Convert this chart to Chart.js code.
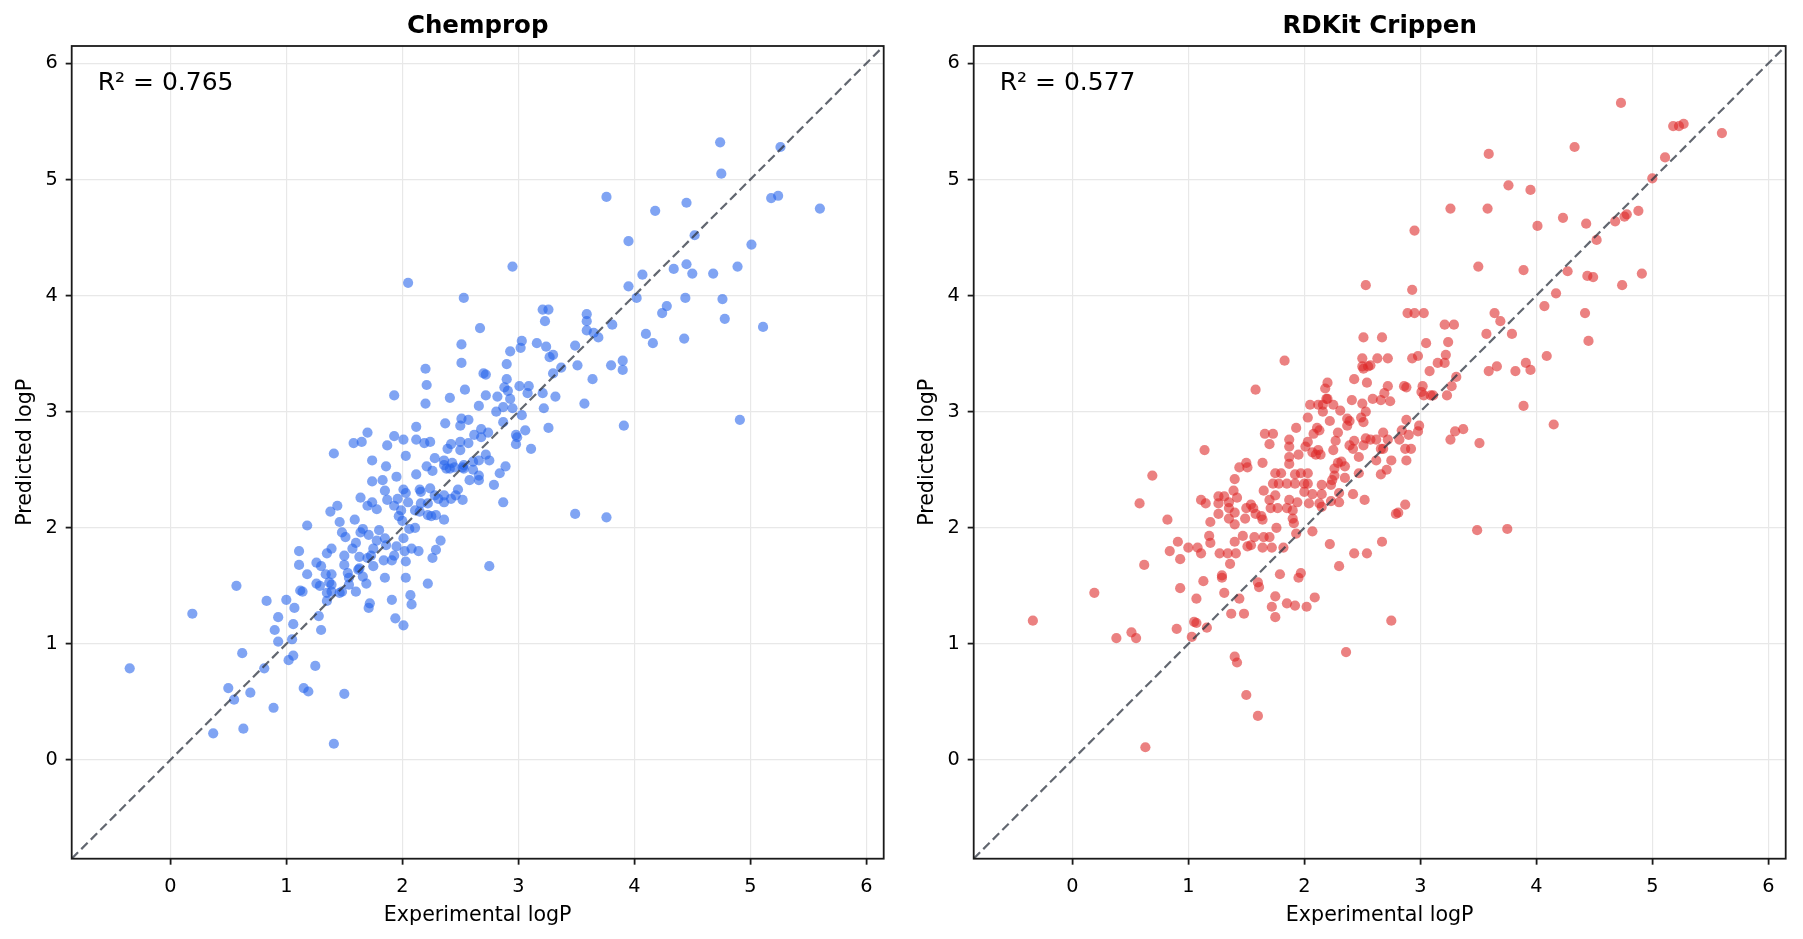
<!DOCTYPE html>
<html>
<head>
<meta charset="utf-8">
<script src="https://cdn.jsdelivr.net/npm/chart.js@4.4.1/dist/chart.umd.min.js"></script>
<style>
  html, body { margin: 0; padding: 0; background: #fff; }
  body { width: 1803px; height: 939px; position: relative; overflow: hidden; }
  canvas { position: absolute; top: 0; }
  #chemChart { left: 0; }
  #cripChart { left: 902px; }
</style>
</head>
<body>
<canvas id="chemChart" width="901" height="939"></canvas>
<canvas id="cripChart" width="901" height="939"></canvas>
<script>
// axis limits and ticks shared by both panels
const axisLims = [-0.85, 6.15];
const tickValues = [0, 1, 2, 3, 4, 5, 6];

// Chemprop panel (experimental vs predicted)
const chempropExp = [
  -0.35, 0.19, 0.57, 0.62, 0.50, 0.55, 0.69, 0.37, 0.63, 0.89, 0.81, 0.83, 1.00, 0.93, 1.07, 0.90, 0.93, 1.06, 1.05, 1.06,
  1.02, 1.25, 1.15, 1.19, 1.50, 1.41, 1.18, 1.11, 1.11, 1.18, 1.26, 1.30, 1.26, 1.12, 1.14, 1.28, 1.30, 1.34, 1.39, 1.37,
  1.39, 1.29, 1.35, 1.35, 1.39, 1.46, 1.48, 1.53, 1.54, 1.60, 1.54, 1.62, 1.69, 1.66, 1.50, 1.50, 1.35, 1.39, 1.57, 1.60,
  1.63, 1.63, 1.70, 1.75, 1.73, 1.75, 1.78, 1.71, 1.66, 1.64, 1.48, 1.51, 1.46, 1.38, 1.44, 1.59, 1.64, 1.70, 1.78, 1.74,
  1.74, 1.83, 1.85, 1.87, 1.95, 1.86, 1.74, 1.87, 1.41, 1.58, 1.65, 1.80, 1.85, 1.86, 1.84, 1.91, 1.93, 1.95, 1.85, 1.91,
  1.94, 2.01, 1.72, 1.71, 2.07, 2.08, 2.03, 2.03, 2.02, 2.08, 2.14, 2.22, 2.26, 2.01, 2.06, 2.11, 2.00, 1.97, 1.93, 1.99,
  1.96, 2.05, 2.11, 2.15, 2.22, 2.25, 2.29, 2.31, 2.28, 2.24, 2.15, 2.01, 2.03, 2.16, 2.16, 2.22, 2.12, 2.26, 2.21, 2.03,
  2.19, 2.24, 2.12, 2.01, 2.28, 2.29,
  2.53, 2.67, 2.51, 2.51, 2.20, 2.21, 2.20, 2.41, 2.54, 2.70, 2.72, 2.90, 2.90, 2.93, 3.02, 3.03, 3.16, 3.21, 3.26, 3.23,
  3.24, 3.27, 3.30, 3.30, 3.37, 3.49, 3.51, 3.59, 3.59, 3.59, 3.65, 3.69, 3.81, 3.64, 3.80, 3.90, 3.90, 3.57, 3.91, 4.02,
  4.10, 4.16, 4.24, 4.28, 4.43, 4.44, 3.49, 3.76, 3.32, 3.21, 3.22, 3.26, 3.09, 3.08, 3.01, 3.03, 3.06, 2.98, 2.98, 2.99,
  3.11, 2.95, 2.93, 2.91, 2.88, 2.82, 2.87, 2.81, 2.87, 2.72, 2.66, 2.51, 2.50, 2.57, 2.37, 2.62, 2.68, 2.68, 2.74, 2.57,
  2.50, 2.50, 2.42, 2.39, 2.72, 2.75, 2.66, 2.61, 2.53, 2.52, 2.53, 2.43, 2.41, 2.36, 2.36, 2.38, 2.45, 2.61, 2.66, 2.66,
  2.58, 2.89, 2.84, 2.79, 2.87, 2.48, 2.52, 2.46, 2.42, 2.36, 2.36, 2.36, 2.33, 2.75,
  4.74, 5.26, 4.75, 3.76, 5.18, 5.24, 5.60, 4.18, 4.45, 3.95, 4.52, 5.01, 4.07, 4.34, 4.45, 4.50, 4.68, 4.89, 3.95, 4.76,
  4.78, 5.11, 4.91, 2.05, 2.95, 1.93, 2.12, 1.93, 1.70
];
const chempropPred = [
  0.79, 1.26, 1.50, 0.92, 0.62, 0.52, 0.58, 0.23, 0.27, 0.45, 0.79, 1.37, 1.38, 1.23, 1.31, 1.12, 1.02, 1.17, 1.04, 0.90,
  0.86, 0.81, 0.62, 0.59, 0.57, 0.14, 2.02, 1.80, 1.68, 1.60, 1.70, 1.67, 1.52, 1.46, 1.45, 1.24, 1.12, 1.60, 1.60, 1.53,
  1.51, 1.50, 1.44, 1.37, 1.45, 1.44, 1.45, 1.61, 1.51, 1.45, 1.57, 1.64, 1.52, 1.58, 1.68, 1.76, 1.78, 1.82, 1.82, 1.87,
  1.75, 1.65, 1.74, 1.67, 1.76, 1.82, 1.89, 1.94, 1.99, 1.96, 1.96, 1.92, 2.05, 2.14, 2.19, 2.07, 2.26, 2.19, 2.16, 2.22,
  2.40, 2.41, 2.32, 2.24, 2.44, 2.53, 2.58, 2.71, 2.64, 2.73, 2.74, 1.98, 1.91, 1.85, 1.72, 1.72, 1.76, 1.84, 1.57, 1.38,
  1.22, 1.16, 1.35, 1.31, 1.42, 1.34, 1.57, 1.71, 1.80, 1.82, 1.80, 1.52, 1.74, 1.91, 1.99, 2.00, 2.06, 2.10, 2.19, 2.15,
  2.25, 2.22, 2.15, 2.14, 2.11, 2.10, 2.11, 2.25, 2.28, 2.34, 2.33, 2.33, 2.30, 2.31, 2.21, 2.21, 2.46, 2.49, 2.53, 2.62,
  2.73, 2.74, 2.76, 2.76, 2.60, 1.81,
  3.98, 3.72, 3.58, 3.42, 3.37, 3.23, 3.07, 3.12, 3.19, 3.33, 3.32, 3.41, 3.28, 3.52, 3.55, 3.61, 3.59, 3.88, 3.88, 3.78,
  3.56, 3.47, 3.49, 3.33, 3.38, 3.57, 3.40, 3.84, 3.78, 3.70, 3.68, 3.64, 3.75, 3.28, 3.40, 3.44, 3.36, 3.07, 2.88, 3.98,
  3.67, 3.59, 3.85, 3.91, 3.63, 3.98, 2.12, 2.09, 3.13, 3.16, 3.03, 2.86, 3.22, 3.16, 3.22, 2.97, 2.84, 2.80, 2.72, 2.78,
  2.68, 3.03, 3.11, 3.18, 3.21, 3.13, 3.04, 3.00, 2.91, 3.14, 3.05, 2.94, 2.88, 2.93, 2.90, 2.80, 2.85, 2.78, 2.82, 2.73,
  2.74, 2.67, 2.72, 2.68, 2.63, 2.58, 2.58, 2.57, 2.54, 2.52, 2.51, 2.56, 2.51, 2.58, 2.54, 2.51, 2.52, 2.50, 2.45, 2.41,
  2.41, 2.53, 2.47, 2.37, 2.22, 2.33, 2.24, 2.28, 2.25, 2.28, 2.22, 2.07, 1.89, 1.67,
  5.32, 5.28, 5.05, 4.85, 4.84, 4.86, 4.75, 4.73, 4.80, 4.47, 4.52, 4.44, 4.18, 4.23, 4.27, 4.19, 4.19, 4.25, 4.08, 3.97,
  3.80, 3.73, 2.93, 4.11, 4.25, 3.14, 2.87, 2.79, 2.82
];

// RDKit Crippen panel (experimental vs predicted)
const crippenExp = [
  -0.34, 0.19, 0.38, 0.51, 0.55, 0.62, 0.58, 0.69, 0.82, 0.63, 0.84, 0.91, 0.93, 0.93, 0.90, 1.00, 1.03, 1.05, 1.07, 1.16,
  1.07, 1.13, 1.08, 1.11, 1.18, 1.19, 1.19, 1.11, 1.15, 1.14, 1.26, 1.26, 1.26, 1.31, 1.35, 1.35, 1.35, 1.40, 1.40, 1.42,
  1.39, 1.40, 1.44, 1.50, 1.51, 1.64, 1.70, 1.27, 1.34, 1.41, 1.40, 1.36, 1.29, 1.29, 1.31, 1.37, 1.48, 1.44, 1.40, 1.42,
  1.50, 1.60, 1.47, 1.49, 1.50, 1.54, 1.56, 1.58, 1.63, 1.64, 1.51, 1.54, 1.57, 1.65, 1.64, 1.70, 1.72, 1.76, 1.82, 1.93,
  1.60, 1.61, 1.79, 1.75, 1.72, 1.75, 1.85, 1.92, 1.95, 1.97, 2.02, 2.09, 2.07, 2.22, 2.30, 1.65, 1.70, 1.71, 1.75, 1.75,
  1.80, 1.73, 1.78, 1.77, 1.85, 1.90, 1.87, 1.94, 1.85, 1.92, 1.92, 1.97, 2.03, 2.00, 2.03, 2.00, 2.07, 2.04, 2.15, 2.15,
  2.13, 2.15, 2.23, 2.26, 2.24, 2.23, 2.26, 2.29, 1.87, 1.87, 1.87, 1.87, 1.95, 2.01, 2.03, 2.07, 2.10, 2.12, 2.14, 2.25,
  2.27, 1.91, 1.90,
  2.89, 2.95, 3.03, 3.21, 3.29, 3.05, 3.24, 2.51, 2.67, 2.50, 2.63, 2.72, 2.50, 2.55, 2.57, 2.51, 2.93, 2.98, 3.22, 3.15,
  3.21, 3.08, 3.31, 3.27, 3.23, 3.02, 3.01, 3.03, 3.09, 3.11, 2.86, 2.88, 2.43, 2.54, 2.72, 2.69, 2.66, 2.74, 2.59, 2.41,
  2.50, 2.53, 2.49, 2.51, 2.37, 2.39, 2.37, 2.31, 2.25, 2.20, 2.19, 2.20, 2.18, 2.16, 2.16, 2.22, 2.29, 2.13, 2.88, 2.99,
  2.98, 2.90, 2.84, 2.82, 2.68, 2.72, 2.57, 2.62, 2.53, 2.43, 3.30, 3.37, 3.26, 3.51, 3.89, 4.15, 3.57, 3.64, 3.69, 3.79,
  3.59, 3.66, 3.82, 3.91, 3.95, 4.09, 4.07, 4.42, 4.45,
  2.39, 2.42, 2.47, 2.51, 2.66, 2.68, 2.62, 2.75, 2.66, 2.71, 2.47, 2.35, 2.35, 2.32, 2.42, 2.52, 2.30, 2.30, 2.87, 2.92,
  2.88, 2.87, 2.79, 2.81, 2.67, 2.54, 2.43, 3.49, 3.75, 2.36, 2.75,
  4.73, 5.18, 5.23, 5.27, 5.60, 5.11, 5.00, 4.33, 3.59, 3.76, 3.95, 3.58, 4.01, 4.23, 4.43, 4.52, 4.68, 4.76, 4.78, 4.88,
  3.50, 3.89, 4.27, 4.44, 4.49, 4.74, 4.91, 4.17,
  3.26, 2.95, 2.53, 2.93, 1.83, 1.58, 1.66, 1.73, 1.93, 2.03, 2.05, 2.12, 2.08, 2.11
];
const crippenPred = [
  1.20, 1.44, 1.05, 1.10, 1.05, 1.68, 2.21, 2.45, 2.07, 0.11, 1.80, 1.88, 1.73, 1.48, 1.13, 1.83, 1.06, 1.19, 1.18, 1.14,
  1.39, 1.54, 1.83, 1.78, 1.93, 1.87, 2.05, 2.24, 2.21, 2.67, 2.27, 2.21, 2.12, 2.27, 2.22, 2.17, 2.08, 2.03, 2.13, 2.26,
  2.32, 2.42, 2.52, 2.56, 2.52, 2.56, 2.72, 1.78, 1.78, 1.78, 1.88, 1.69, 1.59, 1.57, 1.44, 1.26, 1.26, 1.39, 0.89, 0.84,
  0.56, 0.38, 1.93, 2.08, 2.17, 2.20, 2.17, 2.12, 2.10, 2.07, 1.84, 1.85, 1.92, 1.92, 1.83, 1.92, 1.83, 2.00, 1.83, 1.95,
  1.53, 1.49, 1.60, 1.41, 1.32, 1.23, 1.35, 1.33, 1.57, 1.61, 1.32, 1.40, 1.97, 1.86, 1.67, 2.32, 2.24, 2.17, 2.28, 2.47,
  2.47, 2.38, 2.38, 2.17, 2.17, 2.15, 2.24, 2.22, 2.38, 2.38, 2.46, 2.47, 2.47, 2.38, 2.38, 2.31, 2.29, 2.21, 2.29, 2.37,
  2.21, 2.18, 2.23, 2.45, 2.41, 2.37, 2.51, 2.56, 2.61, 2.55, 2.70, 2.76, 2.63, 2.70, 2.74, 2.65, 2.63, 2.67, 2.63, 2.67,
  2.75, 2.04, 2.08,
  3.85, 3.85, 3.85, 3.75, 3.75, 3.59, 3.60, 3.64, 3.64, 3.46, 3.46, 3.46, 3.39, 3.39, 3.40, 3.37, 3.46, 3.48, 3.49, 3.42,
  3.42, 3.35, 3.30, 3.22, 3.14, 3.22, 3.17, 3.14, 3.14, 3.14, 3.22, 3.21, 3.28, 3.25, 3.22, 3.16, 3.10, 3.09, 3.11, 3.10,
  3.07, 3.00, 2.95, 2.91, 2.94, 2.92, 2.88, 3.01, 3.06, 3.11, 3.11, 3.25, 3.20, 3.00, 3.06, 2.92, 2.82, 2.84, 2.93, 2.88,
  2.83, 2.80, 2.84, 2.76, 2.82, 2.76, 2.76, 2.76, 2.77, 2.75, 2.83, 2.85, 2.76, 2.73, 3.05, 2.89, 3.67, 3.85, 3.78, 3.67,
  3.35, 3.39, 3.35, 3.42, 3.36, 3.48, 3.91, 3.85, 3.61,
  2.71, 2.68, 2.61, 2.71, 2.68, 2.68, 2.58, 2.58, 2.46, 2.50, 2.47, 2.43, 2.53, 2.57, 2.29, 2.24, 2.30, 2.22, 2.68, 2.68,
  2.58, 2.20, 2.12, 2.13, 1.88, 1.78, 1.78, 1.98, 1.99, 0.93, 1.20,
  5.66, 5.46, 5.46, 5.48, 5.40, 5.19, 5.01, 5.28, 5.22, 4.95, 4.91, 4.75, 4.60, 4.67, 4.62, 4.48, 4.64, 4.68, 4.70, 4.73,
  4.25, 4.22, 4.21, 4.17, 4.16, 4.09, 4.19, 4.02,
  4.75, 4.56, 4.09, 4.05, 3.44, 3.19, 2.81, 2.81, 2.86, 2.95, 3.06, 3.06, 2.81, 2.86
];

Chart.defaults.font.family = "'DejaVu Sans', sans-serif";
Chart.defaults.color = '#000';

// frame (all four spines) and the R² annotation
const framePlugin = {
  id: 'frameAndLabel',
  afterDatasetsDraw(chart, args, opts) {
    const {ctx, chartArea: a} = chart;
    ctx.save();
    ctx.strokeStyle = '#1a1a1a';
    ctx.lineWidth = 1.8;
    ctx.strokeRect(a.left, a.top, a.right - a.left, a.bottom - a.top);
    ctx.fillStyle = '#000';
    ctx.font = "25px 'DejaVu Sans'";
    ctx.textBaseline = 'alphabetic';
    ctx.textAlign = 'left';
    ctx.fillText(opts.text, a.left + 26, a.top + 43.5);
    ctx.restore();
  }
};

function axisOptions(label, isX) {
  return {
    type: 'linear',
    min: axisLims[0],
    max: axisLims[1],
    afterBuildTicks: s => { s.ticks = tickValues.map(v => ({value: v})); },
    afterFit: s => { if (isX) s.height = 80.3; else s.width = 71.7; },
    ticks: {
      font: {size: 19.3},
      color: '#000',
      padding: isX ? 11 : 8,
      callback: v => String(v)
    },
    grid: {
      color: '#e8e8e8',
      lineWidth: 1.2,
      drawTicks: true,
      tickLength: 6,
      tickColor: '#1a1a1a',
      tickWidth: 1.8
    },
    border: {display: false},
    title: {
      display: true,
      text: label,
      font: {size: 20.6},
      color: '#000',
      padding: isX ? {top: 0, bottom: 11.2} : {top: 13.6, bottom: 0}
    }
  };
}

function makePanel(canvasId, title, r2Text, xs, ys, color) {
  const points = xs.map((x, i) => ({x: x, y: ys[i]}));
  const diag = axisLims.map(v => ({x: v, y: v}));
  new Chart(document.getElementById(canvasId), {
    type: 'scatter',
    data: {
      datasets: [{
        type: 'line',
        data: diag,
        borderColor: 'rgba(45,52,64,0.75)',
        borderWidth: 2.2,
        borderDash: [9, 4.5],
        pointRadius: 0,
        fill: false,
        order: 0
      }, {
        data: points,
        backgroundColor: color,
        borderWidth: 0,
        pointRadius: 5.1,
        pointHoverRadius: 5.1,
        order: 1
      }]
    },
    options: {
      responsive: false,
      animation: false,
      devicePixelRatio: 1,
      events: [],
      layout: {padding: {top: 0, left: 0, right: 17.3, bottom: 0}},
      scales: {
        x: axisOptions('Experimental logP', true),
        y: axisOptions('Predicted logP', false)
      },
      plugins: {
        legend: {display: false},
        tooltip: {enabled: false},
        title: {
          display: true,
          text: title,
          fullSize: false,
          color: '#000',
          font: {size: 24.5, weight: 'bold'},
          padding: {top: 12, bottom: 4.6}
        },
        frameAndLabel: {text: r2Text}
      }
    },
    plugins: [framePlugin]
  });
}

makePanel('chemChart', 'Chemprop', 'R\u00b2 = 0.765', chempropExp, chempropPred, 'rgba(37,99,235,0.58)');
makePanel('cripChart', 'RDKit Crippen', 'R\u00b2 = 0.577', crippenExp, crippenPred, 'rgba(220,38,38,0.58)');
</script>
</body>
</html>
